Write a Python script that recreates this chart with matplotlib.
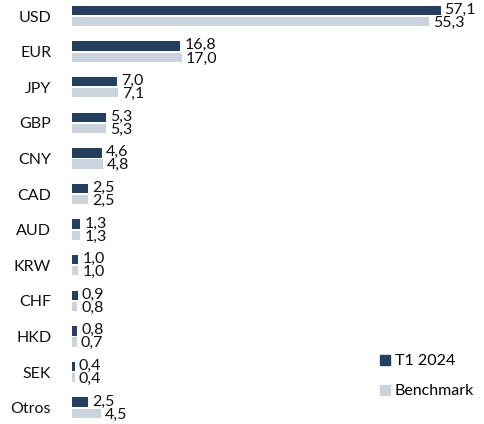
import numpy as np
import matplotlib.pyplot as plt
from matplotlib.patches import Patch

plt.rcParams['font.family'] = ['Lato', 'DejaVu Sans']

# Data
currencies = ["USD", "EUR", "JPY", "GBP", "CNY", "CAD", "AUD", "KRW", "CHF", "HKD", "SEK", "Otros"]
t1_2024 = [57.1, 16.8, 7.0, 5.3, 4.6, 2.5, 1.3, 1.0, 0.9, 0.8, 0.4, 2.5]
benchmark = [55.3, 17.0, 7.1, 5.3, 4.8, 2.5, 1.3, 1.0, 0.8, 0.7, 0.4, 4.5]

dark = "#253f5e"
light = "#cbd3dd"
fs = 11.5

fig = plt.figure(figsize=(4.84, 4.24), dpi=100)
ax = fig.add_axes([72 / 484, 0, 1 - 72 / 484, 1])

y = np.arange(len(currencies))
h = 0.26
off = 0.155

ax.barh(y - off, t1_2024, height=h, color=dark)
ax.barh(y + off, benchmark, height=h, color=light)

for yi, v in zip(y, t1_2024):
    ax.text(v + 0.6, yi - off - 0.02, f"{v:.1f}".replace(".", ","),
            va="center", ha="left", fontsize=fs, color="#111111")
for yi, v in zip(y, benchmark):
    ax.text(v + 0.6, yi + off + 0.04, f"{v:.1f}".replace(".", ","),
            va="center", ha="left", fontsize=fs, color="#111111")

ax.set_xlim(0, 63.8)
ax.set_ylim(11.46, -0.45)
ax.set_yticks(y)
ax.set_yticklabels(currencies, fontsize=fs, color="#111111")
ax.tick_params(axis="y", length=0, pad=15)
ax.set_xticks([])
for s in ax.spines.values():
    s.set_visible(False)

handles = [Patch(color=dark, label="T1 2024"), Patch(color=light, label="Benchmark")]
fig.legend(handles=handles, loc="upper left", bbox_to_anchor=(374 / 484, 1 - 348 / 424),
           frameon=False, fontsize=fs, handlelength=0.6, handleheight=0.6,
           handletextpad=0.3, labelspacing=1.0, borderaxespad=0)

fig.savefig("out.png", dpi=100)
